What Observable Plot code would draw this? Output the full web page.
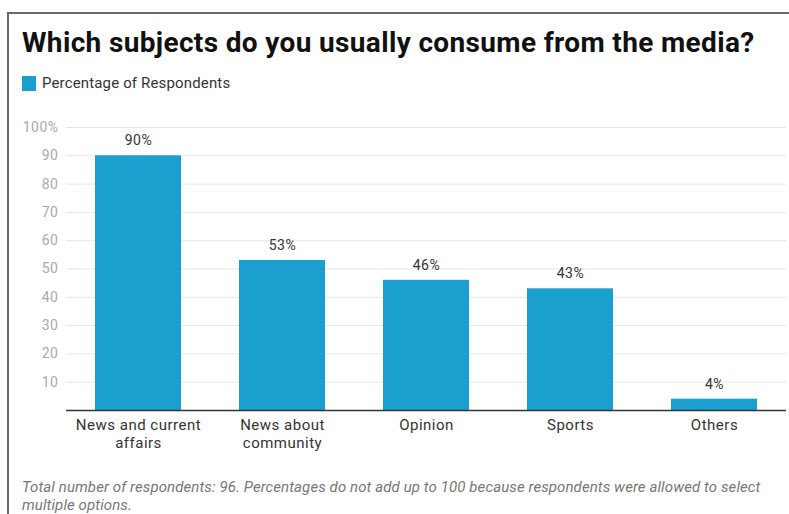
<!DOCTYPE html>
<html>
<head>
<meta charset="utf-8">
<script src="https://cdn.jsdelivr.net/npm/d3@7"></script>
<script src="https://cdn.jsdelivr.net/npm/@observablehq/plot@0.6"></script>
<style>
  html, body { margin: 0; padding: 0; background: #fff; }
  body { width: 789px; height: 514px; position: relative; overflow: hidden; font-family: Roboto, "Noto Sans", sans-serif; }
  #frame { position: absolute; left: 7px; top: 12px; width: 790px; height: 520px; border-left: 2px solid #6a6a6a; border-top: 2px solid #6a6a6a; box-sizing: border-box; }
  #title { position: absolute; left: 22px; top: 26px; font-size: 28px; font-weight: 700; color: #111; white-space: nowrap; letter-spacing: 0.35px; }
  #legend { position: absolute; left: 22px; top: 74px; font-size: 15px; color: #333; display: flex; align-items: center; letter-spacing: 0.15px; }
  #legend .sw { width: 14px; height: 15px; background: #1a9fcf; margin-right: 6px; }
  #chart { position: absolute; left: 0; top: 110px; }
  #caption { position: absolute; left: 22px; top: 478px; width: 758px; font-size: 15px; font-style: italic; color: #777; line-height: 18px; letter-spacing: 0.1px; }
</style>
</head>
<body>
<div id="frame"></div>
<div id="title">Which subjects do you usually consume from the media?</div>
<div id="legend"><div class="sw"></div><span>Percentage of Respondents</span></div>
<div id="chart"></div>
<div id="caption">Total number of respondents: 96. Percentages do not add up to 100 because respondents were allowed to select multiple options.</div>
<script>
const categories = ["News and current affairs", "News about community", "Opinion", "Sports", "Others"];
const tickLabels = ["News and current\naffairs", "News about\ncommunity", "Opinion", "Sports", "Others"];
const percentages = [90, 53, 46, 43, 4];
const yTicks = [10, 20, 30, 40, 50, 60, 70, 80, 90, 100];

const data = categories.map((c, i) => ({category: c, value: percentages[i], label: tickLabels[i]}));
const labelOf = new Map(data.map(d => [d.category, d.label]));

const chart = Plot.plot({
  width: 789,
  height: 350,
  marginLeft: 66,
  marginRight: 3,
  marginTop: 17,
  marginBottom: 50,
  style: {fontFamily: "Roboto, sans-serif", background: "transparent", letterSpacing: "0.5px"},
  x: {domain: categories, paddingInner: 0.4, paddingOuter: 0.2, label: null},
  y: {domain: [0, 100], label: null},
  marks: [
    Plot.gridY(yTicks, {stroke: "#e6e6e6", strokeOpacity: 1, strokeWidth: 1}),
    Plot.axisY(yTicks, {
      tickSize: 0, tickPadding: 8, fontSize: 14, fill: "#aaaaaa",
      tickFormat: d => d === 100 ? "100%" : String(d), label: null
    }),
    Plot.barY(data, {x: "category", y: "value", fill: "#1a9fcf"}),
    Plot.text(data, {x: "category", y: "value", text: d => d.value + "%", dy: -15, fontSize: 14, fill: "#333"}),
    Plot.ruleY([0], {stroke: "#333", strokeWidth: 1.5}),
    Plot.axisX({
      tickSize: 0, tickPadding: 7, fontSize: 15, fill: "#333", lineHeight: 1.2,
      tickFormat: d => labelOf.get(d), label: null
    })
  ]
});
document.getElementById("chart").appendChild(chart);
</script>
</body>
</html>
